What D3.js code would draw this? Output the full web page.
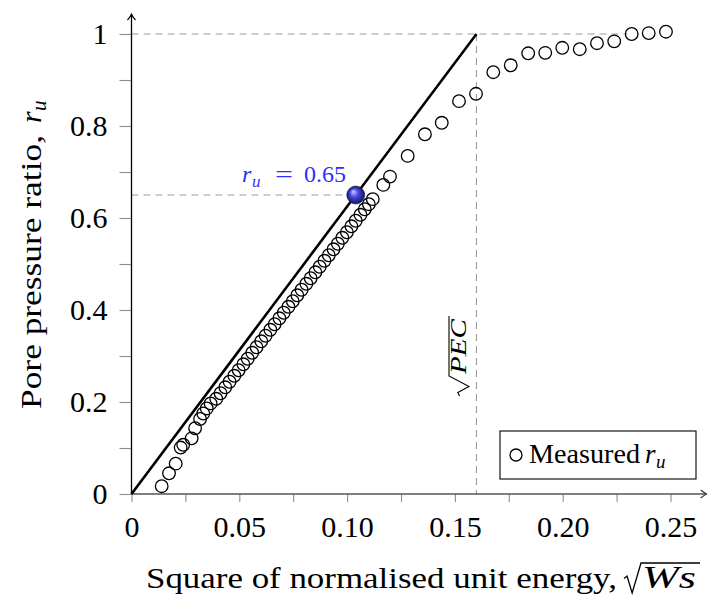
<!DOCTYPE html>
<html>
<head>
<meta charset="utf-8">
<script src="https://cdn.jsdelivr.net/npm/d3@7"></script>
<style>
  html, body { margin: 0; padding: 0; background: #fff; }
  svg { display: block; }
</style>
</head>
<body>
<svg id="chart" width="707" height="601"></svg>
<script>
// Tick positions and labels
const xTicks = [0, 0.05, 0.10, 0.15, 0.20, 0.25];
const xTickLabels = ["0", "0.05", "0.10", "0.15", "0.20", "0.25"];
const xMinorTicks = [0.025, 0.075, 0.125, 0.175, 0.225];
const yTicks = [0, 0.2, 0.4, 0.6, 0.8, 1];
const yTickLabels = ["0", "0.2", "0.4", "0.6", "0.8", "1"];
const yMinorTicks = [0.1, 0.3, 0.5, 0.7, 0.9];

// Measured pore pressure ratio against square root of normalised unit energy
const sqrtWs = [
  0.0140, 0.0174, 0.0205, 0.0228, 0.0240, 0.0279, 0.0295, 0.0318, 0.0333, 0.0349, 0.0367,
  0.0393, 0.0413, 0.0435, 0.0455, 0.0477, 0.0497, 0.0519, 0.0539, 0.0560, 0.0580,
  0.0602, 0.0622, 0.0644, 0.0664, 0.0686, 0.0706, 0.0728, 0.0748, 0.0769, 0.0789,
  0.0811, 0.0831, 0.0853, 0.0873, 0.0895, 0.0915, 0.0937, 0.0957, 0.0978, 0.0999,
  0.1020, 0.1040, 0.1062, 0.1082, 0.1101, 0.1119,
  0.1168, 0.1199, 0.1281, 0.1361, 0.1439, 0.1519, 0.1598, 0.1678, 0.1759, 0.1840,
  0.1919, 0.1998, 0.2079, 0.2159, 0.2239, 0.2320, 0.2399, 0.2479
];
const ruMeasured = [
  0.017, 0.045, 0.066, 0.101, 0.107, 0.121, 0.143, 0.163, 0.175, 0.186, 0.197,
  0.207, 0.219, 0.232, 0.244, 0.257, 0.269, 0.282, 0.294, 0.307, 0.319,
  0.332, 0.344, 0.357, 0.369, 0.382, 0.394, 0.407, 0.419, 0.432, 0.444,
  0.457, 0.469, 0.482, 0.494, 0.507, 0.519, 0.532, 0.544, 0.557, 0.569,
  0.582, 0.594, 0.607, 0.619, 0.630, 0.641,
  0.672, 0.690, 0.735, 0.782, 0.807, 0.854, 0.870, 0.917, 0.932, 0.958,
  0.959, 0.970, 0.967, 0.980, 0.984, 1.000, 1.002, 1.005
];

// Linear trend reaching r_u = 1 at sqrt(PEC)
const sqrtPEC = 0.16;
const trendX = [0, sqrtPEC];
const trendY = [0, 1];
const markerRu = 0.65;
const markerX = markerRu * sqrtPEC;
const xMax = 0.2668;
const yMax = 1.043;
const levelLineEnd = 0.23;

const FONT = '"Liberation Serif"';
const svg = d3.select("#chart");
const x = d3.scaleLinear().domain([0, 0.25]).range([131.5, 670.5]);
const y = d3.scaleLinear().domain([0, 1]).range([494, 34]);

function txt(g, px, py, size, str, italic) {
  return g.append("text").attr("x", px).attr("y", py)
    .style("font-family", FONT).style("font-size", size + "px")
    .style("font-style", italic ? "italic" : "normal").style("fill", "#000")
    .text(str);
}

const defs = svg.append("defs");
const grad = defs.append("radialGradient")
  .attr("id", "ball").attr("cx", "50%").attr("cy", "50%").attr("r", "50%")
  .attr("fx", "35%").attr("fy", "30%");
grad.append("stop").attr("offset", "0%").attr("stop-color", "#d0d0ff");
grad.append("stop").attr("offset", "45%").attr("stop-color", "#4a4ae8");
grad.append("stop").attr("offset", "100%").attr("stop-color", "#14145a");

// Reference dashed lines
const dash = svg.append("g").attr("fill", "none").attr("stroke", "#9a9a9a")
  .attr("stroke-width", 1.1).attr("stroke-dasharray", "7,5");
dash.append("line").attr("x1", x(0)).attr("x2", x(levelLineEnd)).attr("y1", y(1)).attr("y2", y(1));
dash.append("line").attr("x1", x(sqrtPEC)).attr("x2", x(sqrtPEC)).attr("y1", y(1)).attr("y2", y(0));
dash.append("line").attr("x1", x(0)).attr("x2", x(markerX)).attr("y1", y(markerRu)).attr("y2", y(markerRu));

// Axes (ticks via d3-axis, lines drawn with arrow tips)
const xAxis = d3.axisBottom(x)
  .tickValues(xTicks.concat(xMinorTicks))
  .tickFormat(d => { const i = xTicks.indexOf(d); return i >= 0 ? xTickLabels[i] : ""; })
  .tickSize(8).tickPadding(14);
const gx = svg.append("g").attr("transform", `translate(0,${y(0)})`).call(xAxis);
gx.select(".domain").remove();
gx.selectAll(".tick line").attr("stroke", "#8c8c8c").attr("stroke-width", 1.1);
gx.selectAll(".tick text").style("font-family", FONT).style("font-size", "30px").style("fill", "#000");

const yAxis = d3.axisLeft(y)
  .tickValues(yTicks.concat(yMinorTicks))
  .tickFormat(d => { const i = yTicks.indexOf(d); return i >= 0 ? yTickLabels[i] : ""; })
  .tickSize(12).tickPadding(12);
const gy = svg.append("g").attr("transform", `translate(${x(0)},0)`).call(yAxis);
gy.select(".domain").remove();
gy.selectAll(".tick line").attr("stroke", "#8c8c8c").attr("stroke-width", 1.1);
gy.selectAll(".tick text").style("font-family", FONT).style("font-size", "30px").style("fill", "#000");

function arrowTip(g, px, py, dir, color) {
  const p = dir === "right"
    ? `M${px - 6},${py - 4} Q${px - 2},${py - 0.8} ${px},${py} Q${px - 2},${py + 0.8} ${px - 6},${py + 4}`
    : `M${px - 4},${py + 6} Q${px - 0.8},${py + 2} ${px},${py} Q${px + 0.8},${py + 2} ${px + 4},${py + 6}`;
  g.append("path").attr("d", p).attr("fill", "none").attr("stroke", color).attr("stroke-width", 1.2);
}
const axes = svg.append("g");
axes.append("line").attr("x1", x(0)).attr("x2", x(xMax)).attr("y1", y(0)).attr("y2", y(0))
  .attr("stroke", "#555").attr("stroke-width", 1.6);
arrowTip(axes, x(xMax), y(0), "right", "#333");
axes.append("line").attr("x1", x(0)).attr("x2", x(0)).attr("y1", y(0)).attr("y2", y(yMax))
  .attr("stroke", "#000").attr("stroke-width", 1.3);
arrowTip(axes, x(0), y(yMax), "up", "#000");

// Measured points
svg.append("g").selectAll("circle")
  .data(sqrtWs.map((v, i) => [v, ruMeasured[i]]))
  .join("circle")
  .attr("cx", d => x(d[0])).attr("cy", d => y(d[1])).attr("r", 6.3)
  .attr("fill", "none").attr("stroke", "#000").attr("stroke-width", 1.3);

// Trend line
svg.append("path")
  .attr("d", d3.line().x(d => x(d[0])).y(d => y(d[1]))(trendX.map((v, i) => [v, trendY[i]])))
  .attr("stroke", "#000").attr("stroke-width", 2.6).attr("fill", "none");

// Marker ball at r_u = 0.65
svg.append("circle").attr("cx", x(markerX)).attr("cy", y(markerRu)).attr("r", 9)
  .attr("fill", "url(#ball)").attr("stroke", "#10104a").attr("stroke-width", 0.6);

// Radical sign, baseline at y=0 in local coords
function radical(g, x0, w, top, depth, x1, sw) {
  g.append("path")
    .attr("d", `M${x0},${-top * 0.38} L${x0 + w * 0.18},${-top * 0.48} L${x0 + w * 0.48},${depth} L${x0 + w},${-top} L${x1},${-top}`)
    .attr("fill", "none").attr("stroke", "#000").attr("stroke-width", sw).attr("stroke-linejoin", "miter");
}

// Marker label
const blue = "#2e2eff";
txt(svg, 242, 182, 24, "r", true).style("fill", blue);
txt(svg, 252, 187, 17, "u", true).style("fill", blue);
txt(svg, 275, 182, 24, "=", false).style("fill", blue)
  .attr("textLength", 18).attr("lengthAdjust", "spacingAndGlyphs");
txt(svg, 304, 182, 24, "0.65", false).style("fill", blue);

// sqrt(PEC) label, rotated
const pec = svg.append("g").attr("transform", "translate(466,0) rotate(-90)");
txt(pec, -374, 0, 23, "PEC", true).attr("textLength", 55).attr("lengthAdjust", "spacingAndGlyphs");
radical(pec, -396, 20, 17, 3, -316, 1.1);

// X axis title
txt(svg, 146, 588, 30, "Square of normalised unit energy,", false)
  .attr("textLength", 471).attr("lengthAdjust", "spacingAndGlyphs");
const xr = svg.append("g").attr("transform", "translate(0,588)");
txt(xr, 642, 0, 32, "Ws", true).attr("textLength", 54).attr("lengthAdjust", "spacingAndGlyphs");
radical(xr, 624, 17, 25, 5, 700, 1.3);

// Y axis title, rotated
const yt = svg.append("g").attr("transform", "translate(41,0) rotate(-90)");
txt(yt, -409, 0, 30, "Pore pressure ratio,", false)
  .attr("textLength", 274).attr("lengthAdjust", "spacingAndGlyphs");
txt(yt, -123, 0, 30, "r", true);
txt(yt, -111, 5, 21, "u", true);

// Legend
const leg = svg.append("g");
leg.append("rect").attr("x", 500).attr("y", 431).attr("width", 196).attr("height", 48)
  .attr("fill", "#fff").attr("stroke", "#000").attr("stroke-width", 1.1);
leg.append("circle").attr("cx", 516).attr("cy", 455).attr("r", 6)
  .attr("fill", "none").attr("stroke", "#000").attr("stroke-width", 1.3);
txt(leg, 529, 463, 27, "Measured", false).attr("textLength", 111).attr("lengthAdjust", "spacingAndGlyphs");
txt(leg, 645, 463, 27, "r", true);
txt(leg, 656, 468, 19, "u", true);
</script>
</body>
</html>
